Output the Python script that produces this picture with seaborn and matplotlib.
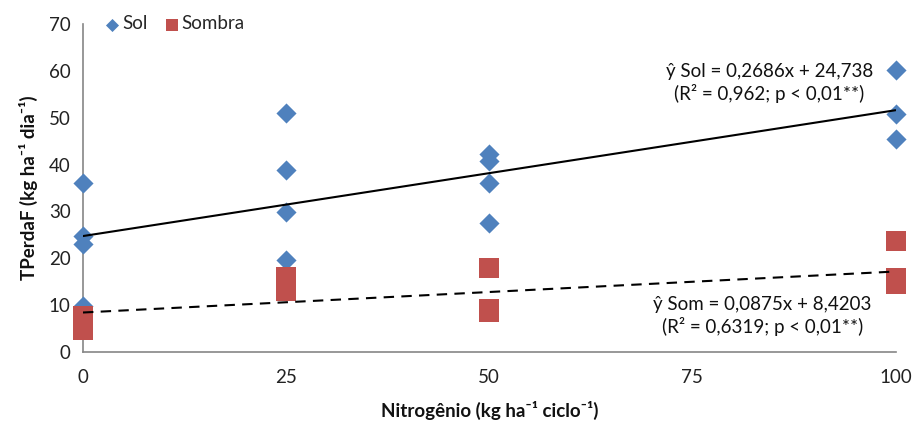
import numpy as np
import pandas as pd
import matplotlib
matplotlib.use("Agg")
import matplotlib.pyplot as plt
import seaborn as sns

# ---- data ----
sol_x = [0, 0, 0, 0, 25, 25, 25, 25, 50, 50, 50, 50, 100, 100, 100]
sol_y = [36.0, 24.8, 23.0, 9.8, 51.0, 38.8, 29.9, 19.6, 42.2, 40.8, 36.1, 27.5, 60.2, 50.8, 45.4]
som_x = [0, 0, 0, 0, 25, 25, 25, 25, 50, 50, 50, 100, 100, 100]
som_y = [7.7, 6.2, 5.2, 4.6, 16.0, 15.0, 14.0, 13.0, 18.0, 9.2, 8.5, 23.6, 15.7, 14.4]

sol_coef = (0.2686, 24.738)
som_coef = (0.0875, 8.4203)
fit_x = [0, 100]

xticks = [0, 25, 50, 75, 100]
yticks = [0, 10, 20, 30, 40, 50, 60, 70]

sol_label = "ŷ Sol = 0,2686x + 24,738\n(R² = 0,962; p < 0,01**)"
som_label = "ŷ Som = 0,0875x + 8,4203\n(R² = 0,6319; p < 0,01**)"

BLUE = "#4F81BD"
RED = "#C0504D"

sns.set_theme(style="white")
plt.rcParams["font.family"] = ["Lato", "DejaVu Sans"]

df = pd.DataFrame({
    "N": sol_x + som_x,
    "T": sol_y + som_y,
    "grupo": ["Sol"] * len(sol_x) + ["Sombra"] * len(som_x),
})

fig = plt.figure(figsize=(9.14, 4.21), dpi=100)
ax = fig.add_axes([0.0908, 0.164, 0.889, 0.779])

sns.scatterplot(data=df[df.grupo == "Sol"], x="N", y="T", ax=ax, marker="D",
                color=BLUE, s=105, linewidth=0, label="Sol", zorder=3)
sns.scatterplot(data=df[df.grupo == "Sombra"], x="N", y="T", ax=ax, marker="s",
                color=RED, s=200, linewidth=0, label="Sombra", zorder=3)

fx = np.array(fit_x, dtype=float)
ax.plot(fx, sol_coef[0] * fx + sol_coef[1], color="black", lw=1.5, zorder=4)
ax.plot(fx, som_coef[0] * fx + som_coef[1], color="black", lw=1.5,
        ls=(0, (5, 3.5)), zorder=4)

ax.set_xlim(0, 100)
ax.set_ylim(0, 70)
ax.set_xticks(xticks)
ax.set_yticks(yticks)
ax.tick_params(axis="both", labelsize=13.5, colors="#222222", length=5,
               width=1, color="#868686", direction="out")
ax.tick_params(axis="x", pad=7)
ax.tick_params(axis="y", pad=4)
for side in ["top", "right"]:
    ax.spines[side].set_visible(False)
for side in ["left", "bottom"]:
    ax.spines[side].set_color("#868686")
    ax.spines[side].set_linewidth(1.2)
for c in ax.collections:
    c.set_clip_on(False)

ax.set_xlabel("Nitrogênio (kg ha⁻¹ ciclo⁻¹)", fontsize=13.5, fontweight="bold",
              labelpad=11, color="#111111")
ax.set_ylabel("TPerdaF (kg ha⁻¹ dia⁻¹)", fontsize=13.5, fontweight="bold",
              labelpad=8, color="#111111")

ax.text(84.5, 57.3, sol_label, ha="center", va="center", fontsize=13.5,
        linespacing=1.25, color="#111111")
ax.text(83.6, 7.7, som_label, ha="center", va="center", fontsize=13.5,
        linespacing=1.25, color="#111111")

leg = ax.legend(loc="center left", bbox_to_anchor=(0.004, 1.0), ncol=2,
                frameon=False, fontsize=13.5, markerscale=0.65,
                handletextpad=0.0, columnspacing=0.8, handlelength=1.0)

fig.savefig("out.png", dpi=100, facecolor="white")
